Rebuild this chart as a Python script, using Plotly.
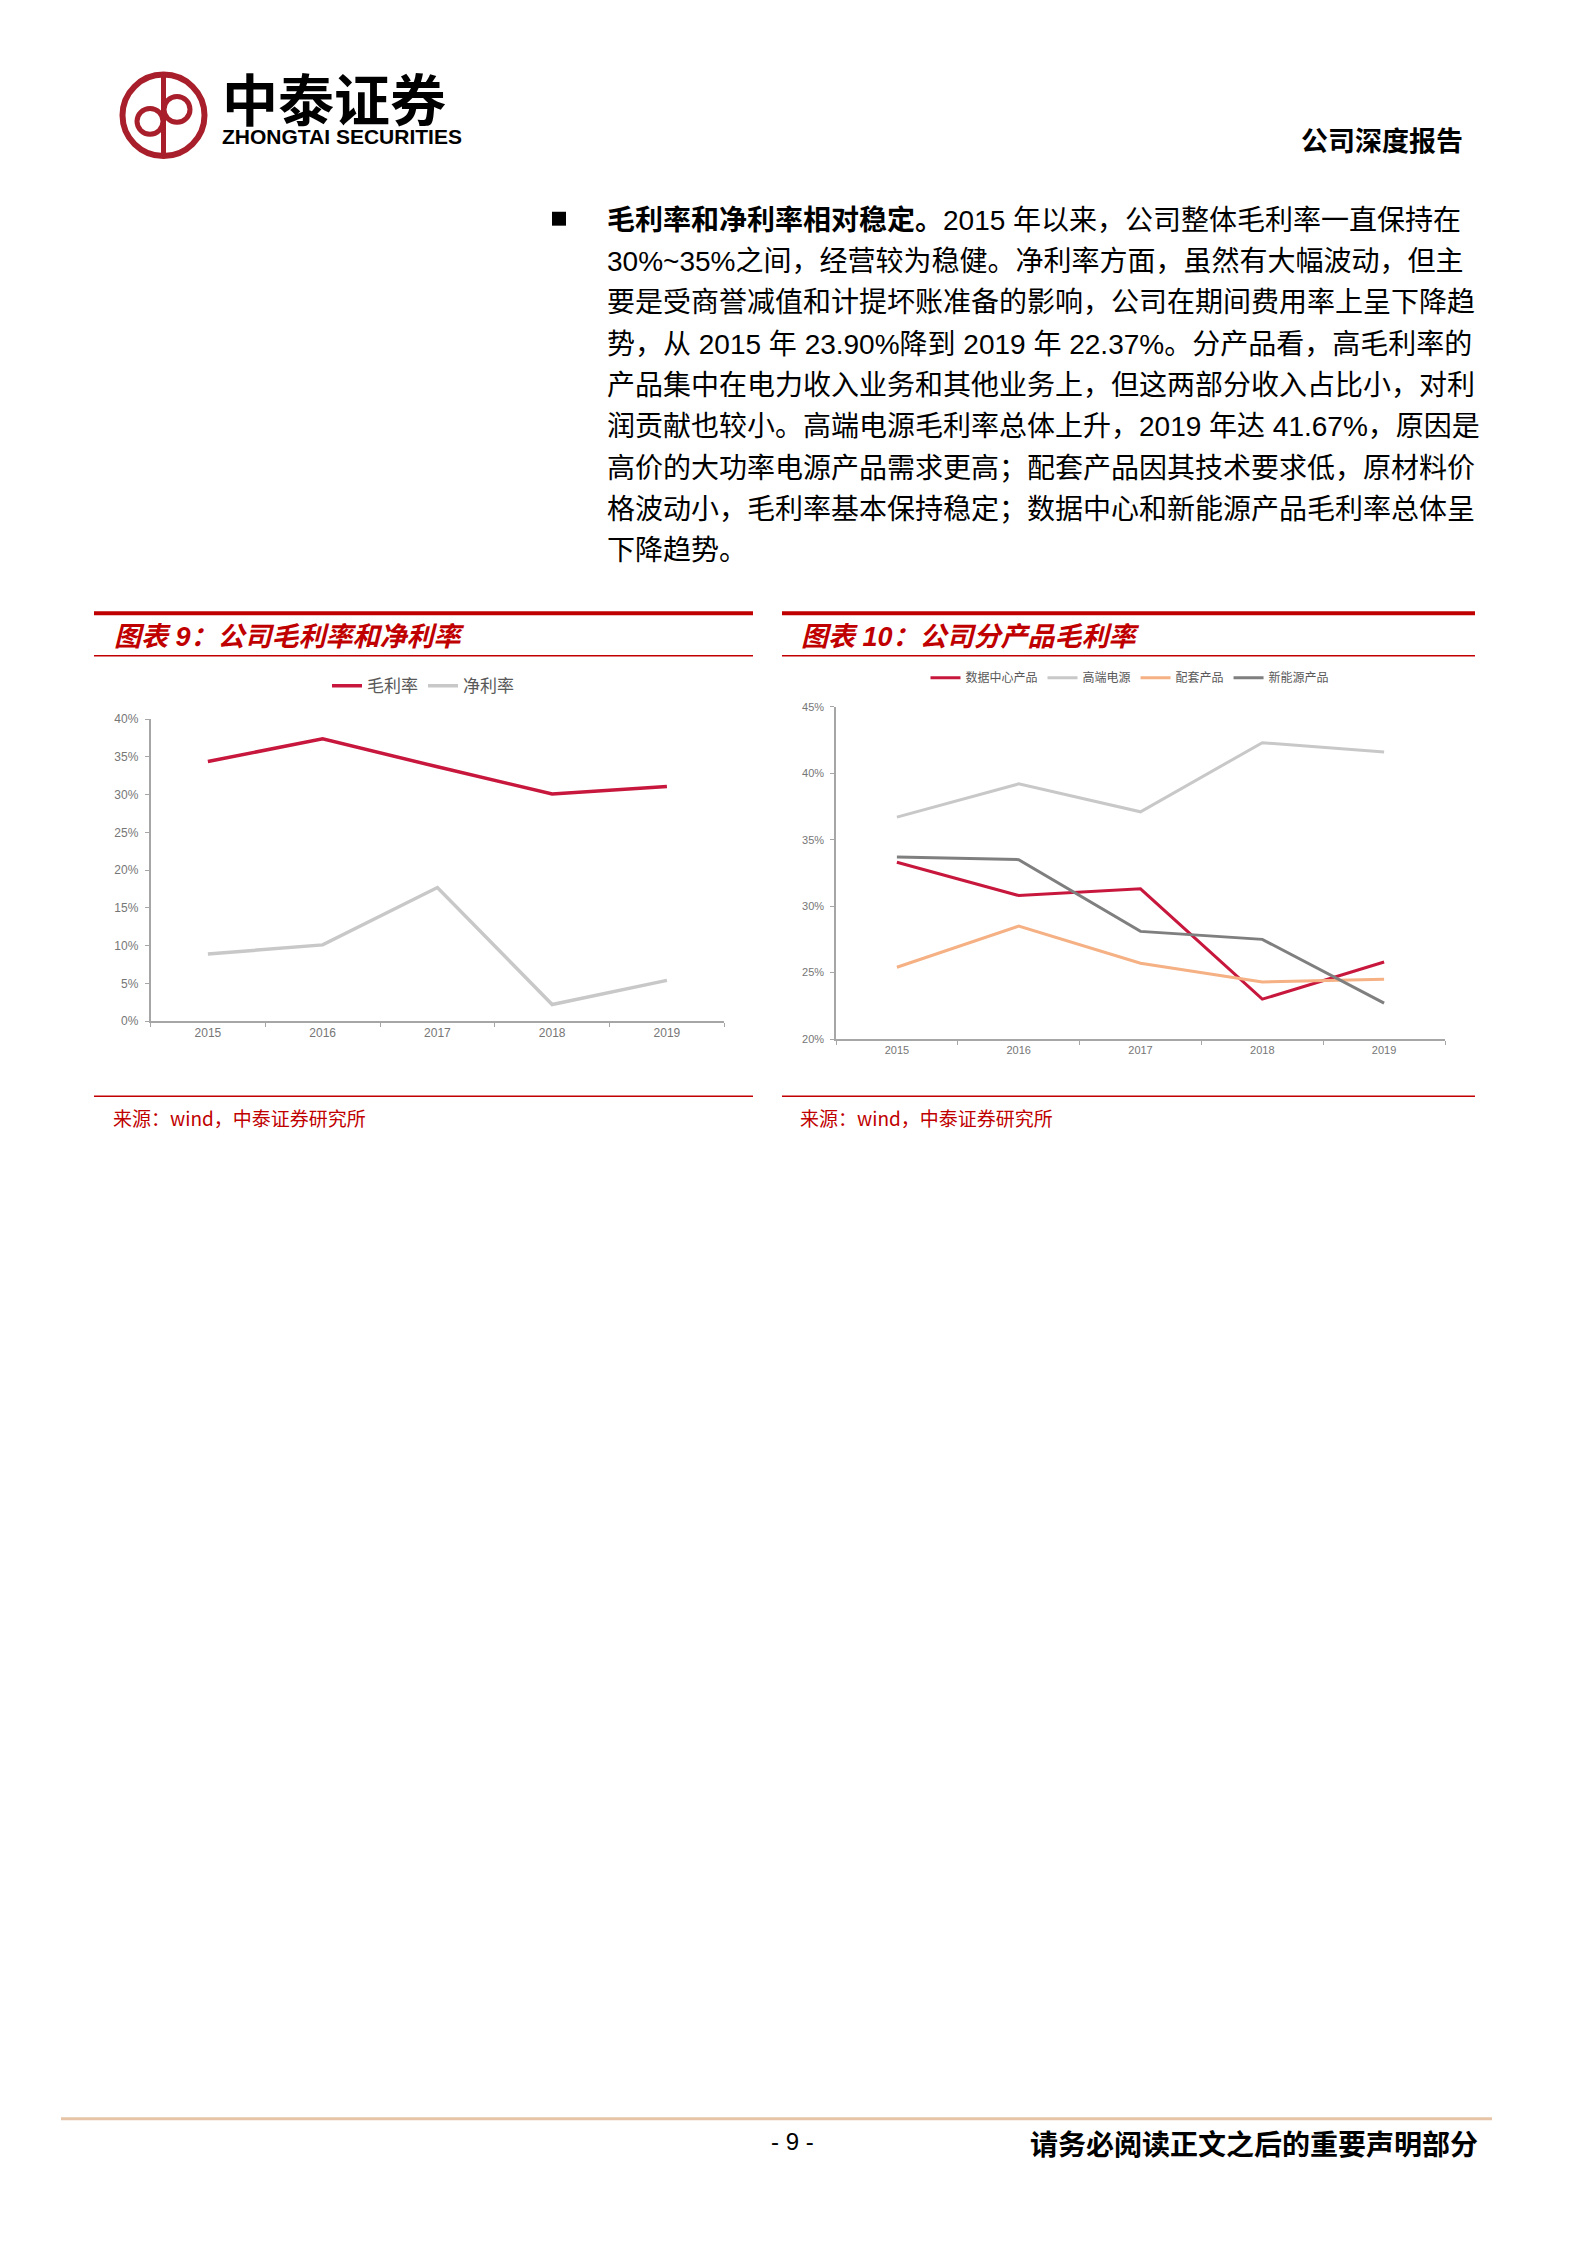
import plotly.graph_objects as go

W, H = 1586, 2244
PAD = 8  # margem padrao do <body> da pagina
FW, FH = W - 2 * PAD, H - 2 * PAD

# ---- dados ----
anos = ["2015", "2016", "2017", "2018", "2019"]

margem_bruta = [34.4, 37.4, 33.7, 30.1, 31.1]
margem_liquida = [8.9, 10.1, 17.7, 2.2, 5.4]

datacenter = [33.3, 30.8, 31.3, 23.0, 25.8]
alta_potencia = [36.7, 39.2, 37.1, 42.3, 41.6]
acessorios = [25.4, 28.5, 25.7, 24.3, 24.5]
nova_energia = [33.7, 33.5, 28.1, 27.5, 22.7]

texto_linhas = [
    "<b>毛利率和净利率相对稳定。</b>2015 年以来，公司整体毛利率一直保持在",
    "30%~35%之间，经营较为稳健。净利率方面，虽然有大幅波动，但主",
    "要是受商誉减值和计提坏账准备的影响，公司在期间费用率上呈下降趋",
    "势，从 2015 年 23.90%降到 2019 年 22.37%。分产品看，高毛利率的",
    "产品集中在电力收入业务和其他业务上，但这两部分收入占比小，对利",
    "润贡献也较小。高端电源毛利率总体上升，2019 年达 41.67%，原因是",
    "高价的大功率电源产品需求更高；配套产品因其技术要求低，原材料价",
    "格波动小，毛利率基本保持稳定；数据中心和新能源产品毛利率总体呈",
    "下降趋势。",
]

RED = "#C00000"
CRIMSON = "#C8173C"
LGRAY = "#C8C8C8"
ORANGE = "#F5B083"
DGRAY = "#7F7F7F"
CJK = "Liberation Sans, Noto Sans CJK SC, sans-serif"
TICK = "Liberation Sans, Arial, sans-serif"


def px(x):
    return (x - PAD) / FW


def py(y):
    return 1 - (y - PAD) / FH


fig = go.Figure()

# grafico 9
fig.add_trace(go.Scatter(x=anos, y=margem_bruta, name="毛利率", mode="lines",
                         line=dict(color=CRIMSON, width=3.5), xaxis="x", yaxis="y", legend="legend"))
fig.add_trace(go.Scatter(x=anos, y=margem_liquida, name="净利率", mode="lines",
                         line=dict(color=LGRAY, width=3.5), xaxis="x", yaxis="y", legend="legend"))

# grafico 10
series10 = [("数据中心产品", datacenter, CRIMSON), ("高端电源", alta_potencia, LGRAY),
            ("配套产品", acessorios, ORANGE), ("新能源产品", nova_energia, DGRAY)]
for nome, vals, cor in series10:
    fig.add_trace(go.Scatter(x=anos, y=vals, name=nome, mode="lines",
                             line=dict(color=cor, width=3), xaxis="x2", yaxis="y2", legend="legend2"))

eixo_x = dict(type="category", tickson="boundaries", range=[-0.5, 4.5], showgrid=False,
              showline=True, linecolor="#A6A6A6", linewidth=1.5, ticks="outside", ticklen=4,
              tickcolor="#A6A6A6", zeroline=False)
eixo_y = dict(showgrid=False, showline=True, linecolor="#A6A6A6", linewidth=1.5, ticks="outside",
              ticklen=4, tickcolor="#A6A6A6", zeroline=False, ticksuffix="%", ticklabelstandoff=4)

fig.update_layout(
    width=FW, height=FH, margin=dict(l=0, r=0, t=0, b=0),
    paper_bgcolor="white", plot_bgcolor="white",
    xaxis=dict(eixo_x, domain=[px(150.5), px(724.3)], anchor="y",
               tickfont=dict(family=TICK, size=12, color="#767676")),
    yaxis=dict(eixo_y, domain=[py(1020.5), py(716.7)], anchor="x", range=[0, 40], dtick=5,
               tickfont=dict(family=TICK, size=12, color="#767676")),
    xaxis2=dict(eixo_x, domain=[px(836), px(1445)], anchor="y2",
                tickfont=dict(family=TICK, size=11, color="#767676")),
    yaxis2=dict(eixo_y, domain=[py(1038.5), py(704.2)], anchor="x2", range=[20, 45], dtick=5,
                tickfont=dict(family=TICK, size=11, color="#767676")),
    legend=dict(orientation="h", x=px(423), y=py(683.5), xanchor="center", yanchor="middle",
                font=dict(family="Noto Sans CJK SC", size=17, color="#595959"),
                bgcolor="rgba(0,0,0,0)", itemwidth=30),
    legend2=dict(orientation="h", x=px(1130), y=py(675), xanchor="center", yanchor="middle",
                 font=dict(family="Noto Sans CJK SC", size=12, color="#595959"),
                 bgcolor="rgba(0,0,0,0)", itemwidth=30),
    showlegend=True,
)

shapes = []


def linha(x0, y0, x1, y1, cor, w):
    shapes.append(dict(type="line", xref="paper", yref="paper", x0=px(x0), x1=px(x1),
                       y0=py(y0), y1=py(y1), line=dict(color=cor, width=w)))


# linhas vermelhas dos quadros
for x0, x1 in [(94, 753), (782, 1475)]:
    linha(x0, 610, x1, 610, RED, 4)
    linha(x0, 652.8, x1, 652.8, RED, 1.5)
    linha(x0, 1096, x1, 1096, RED, 1.5)
# rodape
linha(61, 2125, 1492, 2125, "#E6C4A8", 3)
# marcador do paragrafo
shapes.append(dict(type="rect", xref="paper", yref="paper", x0=px(552), x1=px(566),
                   y0=py(220), y1=py(206), fillcolor="black", line=dict(width=0)))
# logo
LOGO = "#A81E2A"


def circulo(cx, cy, r, w):
    shapes.append(dict(type="circle", xref="paper", yref="paper", x0=px(cx - r), x1=px(cx + r),
                       y0=py(cy + r), y1=py(cy - r), line=dict(color=LOGO, width=w)))


circulo(163.5, 109, 41, 6)
linha(163.5, 70, 163.5, 148, LOGO, 5)
circulo(150, 115, 13, 5)
circulo(177, 103, 13, 5)
fig.update_layout(shapes=shapes)

ann = []


def texto(x, y, t, size, color="black", family=CJK, xanchor="left"):
    ann.append(dict(x=px(x), y=py(y), xref="paper", yref="paper", text=t, showarrow=False,
                    xanchor=xanchor, yanchor="middle", align="left",
                    font=dict(family=family, size=size, color=color)))


# nome da corretora (duas linhas num so texto)
texto(220, 103, "<b><span style='font-size:56px'>中泰证券</span><br>"
      "<span style='font-size:21px'>ZHONGTAI SECURITIES</span></b>", 18, family=CJK)
texto(1465, 133, "<b>公司深度报告</b>", 27, family="Noto Sans CJK SC", xanchor="right")

for i, l in enumerate(texto_linhas):
    texto(605, 214.5 + i * 41.6, l, 28)

texto(112, 633.5, "<b><i>图表 9：公司毛利率和净利率</i></b>", 27, color=RED)
texto(799, 633.5, "<b><i>图表 10：公司分产品毛利率</i></b>", 27, color=RED)
texto(111, 1117.5, "来源：wind，中泰证券研究所", 19, color=RED, family="Noto Sans CJK SC")
texto(798, 1117.5, "来源：wind，中泰证券研究所", 19, color=RED, family="Noto Sans CJK SC")

texto(792.5, 2148, "- 9 -", 24, family="Liberation Sans", xanchor="center")
texto(1480, 2149, "<b>请务必阅读正文之后的重要声明部分</b>", 28, family="Noto Sans CJK SC", xanchor="right")

fig.update_layout(annotations=ann)

fig.write_html("out.html")
